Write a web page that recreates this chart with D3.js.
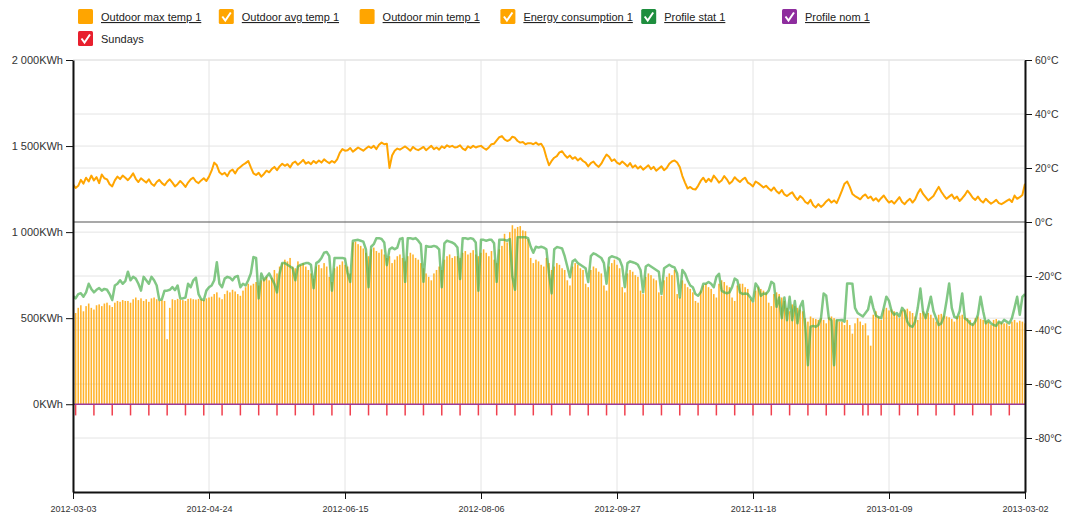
<!DOCTYPE html>
<html>
<head>
<meta charset="utf-8">
<script src="https://cdn.jsdelivr.net/npm/d3@7"></script>
<style>
  body { margin: 0; background: #fff; }
  svg { font-family: "Liberation Sans", Arial, sans-serif; }
  .axis path, .axis line { stroke: #111; }
  .axis text { fill: #333; }
</style>
</head>
<body>
<svg id="chart" width="1065" height="517"></svg>
<script>
// first day of the series, one value per day from here
const startDay = "2012-03-03";

// daily energy consumption (KWh), one row per week starting on Saturday
const energy = [
  545, 530, 560, 575, 540, 570, 585,
  560, 550, 575, 580, 570, 585, 590,
  575, 565, 590, 600, 595, 605, 600,
  600, 590, 610, 620, 605, 615, 600,
  610, 595, 615, 620, 610, 600, 605,
  600, 378, 560, 610, 605, 612, 608,
  605, 600, 612, 615, 610, 608, 612,
  610, 605, 615, 620, 625, 640, 650,
  620, 610, 640, 660, 650, 665, 655,
  640, 630, 660, 680, 700, 690, 700,
  710, 690, 720, 730, 740, 720, 735,
  780, 760, 800, 820, 840, 830, 850,
  800, 790, 830, 810, 820, 800, 780,
  760, 730, 800, 810, 790, 820, 800,
  740, 710, 790, 800, 810, 830, 810,
  800, 760, 940, 945, 930, 920, 905,
  880, 860, 900, 910, 890, 880, 900,
  870, 850, 860, 820, 840, 860, 870,
  850, 830, 860, 880, 870, 850, 840,
  820, 790, 760, 740, 720, 760, 780,
  800, 780, 840, 860, 870, 850, 860,
  860, 850, 880, 890, 870, 880, 895,
  870, 860, 880, 900, 880, 860, 890,
  840, 820, 900, 920, 990, 940, 1000,
  1040, 1020, 1030, 1035, 1010, 1005, 960,
  850, 820, 840, 830, 810, 800, 850,
  820, 780, 800, 820, 810, 790, 780,
  720, 690, 800, 820, 810, 790, 780,
  700, 680, 780, 800, 790, 770, 760,
  690, 660, 800, 820, 840, 810, 790,
  680, 650, 760, 780, 770, 750, 740,
  660, 640, 740, 760, 750, 730, 720,
  650, 630, 720, 740, 760, 750, 780,
  640, 620, 720, 700, 680, 670, 650,
  600, 590, 660, 690, 700, 680, 670,
  640, 620, 700, 720, 710, 690, 680,
  620, 600, 690, 700, 700, 680, 670,
  610, 590, 660, 680, 670, 660, 650,
  590, 570, 640, 650, 640, 620, 600,
  560, 540, 580, 570, 560, 550, 540,
  500, 480, 510, 500, 495, 490, 500,
  490, 470, 505, 510, 500, 490, 480,
  480, 460, 490, 460, 410, 470, 500,
  480, 460, 470, 400, 340, 520, 540,
  510, 490, 550, 560, 545, 550, 540,
  520, 500, 545, 550, 555, 540, 530,
  510, 490, 530, 540, 525, 530, 520,
  500, 480, 520, 525, 515, 510, 505,
  495, 480, 510, 515, 520, 505, 500,
  490, 470, 500, 510, 495, 490, 485,
  480, 460, 490, 495, 480, 475, 470,
  470, 455, 480, 490, 475, 485, 480,
  470
];

// daily statistical profile (KWh)
const profileStat = [
  630, 615, 640, 645, 625, 650, 700,
  670, 650, 665, 675, 660, 670, 665,
  640, 605, 690, 700, 720, 700, 715,
  770, 720, 740, 730, 700, 660, 740,
  720, 700, 740, 720, 690, 605, 610,
  660, 660, 665, 680, 663, 690, 615,
  615, 620, 700, 680, 720, 735, 640,
  610, 605, 660, 680, 690, 720, 825,
  700, 680, 730, 740, 735, 720, 740,
  745, 680, 700, 690, 720, 760, 855,
  850, 615, 760, 720, 740, 760, 730,
  700, 650, 760, 820, 820, 810, 800,
  790, 720, 800, 810, 815, 820, 820,
  810, 674, 820, 830, 850, 880, 885,
  860, 660, 850, 850, 850, 850, 845,
  760, 711, 950, 953, 955, 950, 945,
  900, 680, 915, 930, 965, 965, 960,
  940, 808, 900, 910, 900, 910, 960,
  965, 711, 965, 965, 960, 965, 950,
  930, 711, 920, 915, 915, 920, 915,
  900, 680, 935, 950, 945, 940, 930,
  910, 727, 965, 965, 960, 965, 960,
  940, 660, 955, 955, 950, 955, 955,
  935, 711, 955, 955, 955, 950, 960,
  740, 665, 970, 970, 970, 970, 965,
  915, 880, 915, 910, 915, 910, 900,
  760, 644, 900, 913, 910, 905, 860,
  800, 738, 830, 840, 820, 810, 800,
  790, 710, 860, 877, 870, 860, 850,
  820, 700, 850, 860, 855, 850, 840,
  800, 680, 820, 830, 825, 820, 810,
  780, 650, 800, 810, 800, 790, 780,
  770, 640, 790, 800, 810, 800, 795,
  760, 620, 780, 760, 720, 690, 680,
  640, 630, 650, 700, 700, 710, 700,
  680, 740, 758, 660, 650, 645, 650,
  680, 730, 720, 650, 640, 643, 640,
  620, 597, 702, 680, 630, 643, 640,
  660, 711, 700, 566, 620, 500, 620,
  488, 624, 488, 600, 470, 566, 600,
  450, 227, 450, 455, 450, 460, 500,
  643, 630, 500, 488, 227, 488, 488,
  490, 480, 702, 702, 700, 560, 530,
  520, 510, 530, 550, 625, 560, 515,
  505, 500, 560, 625, 600, 540, 520,
  530, 510, 560, 540, 480, 455, 450,
  480, 560, 672, 540, 500, 560, 625,
  540, 500, 460, 470, 510, 600, 702,
  560, 508, 500, 540, 643, 500, 488,
  470, 460, 480, 520, 624, 540, 470,
  488, 470, 460, 455, 480, 470, 490,
  480, 470, 500, 560, 624, 520, 624,
  640
];

// daily average outdoor temperature (°C)
const avgTemp = [
  14.0, 12.6, 13.4, 15.6, 14.2, 16.4, 15.0,
  17.2, 15.4, 16.6, 14.4, 17.6, 16.2, 15.8,
  14.0, 13.2, 15.4, 16.8, 15.9, 17.2, 16.4,
  15.5, 16.6, 18.0, 16.0, 14.8, 16.2, 15.4,
  14.6, 15.8, 14.2, 13.4, 14.8, 15.6, 14.4,
  13.6, 14.9, 15.8, 14.6, 13.2, 14.0, 15.2,
  14.2, 13.0, 14.6, 15.8, 16.4, 15.0, 14.4,
  15.4, 16.2, 15.2, 16.8, 19.0, 22.0, 21.0,
  18.4, 17.6, 18.2, 17.0, 18.8, 19.4, 18.0,
  19.6, 20.4, 21.2, 21.8, 22.6, 20.2, 18.0,
  17.4, 18.2, 16.8, 17.8, 19.0, 18.4, 19.6,
  20.4, 19.2, 20.6, 21.6, 20.8, 21.4, 20.2,
  21.8, 22.4, 21.2, 22.0, 23.0, 21.6, 22.2,
  21.4, 22.6, 21.8, 22.8, 22.0, 23.2, 22.4,
  21.8, 22.6, 22.0, 23.2, 25.6, 27.0, 26.4,
  26.6, 27.4, 26.0, 26.8, 27.6, 27.0, 26.4,
  27.2, 28.0, 27.4, 28.2, 27.0, 28.6, 29.4,
  28.8, 29.0, 20.0, 24.6, 26.4, 27.2, 26.8,
  27.4, 28.0, 27.2, 26.4, 27.8, 27.0, 26.6,
  27.2, 27.8, 26.6, 27.4, 28.2, 27.0, 27.6,
  26.8, 28.0, 27.4, 28.4, 27.8, 28.2, 27.6,
  27.8, 28.4, 27.2, 26.6, 28.0, 27.4, 28.2,
  27.6, 28.0, 28.2, 27.4, 26.8, 27.6, 28.8,
  29.0, 30.2, 31.4, 31.8, 30.6, 30.0, 30.4,
  31.6, 31.2, 30.0, 29.4, 29.6, 28.8, 29.2,
  29.2, 28.8, 29.4, 28.6, 29.0, 27.4, 24.0,
  21.0, 22.6, 23.8, 24.4, 25.8, 26.2, 24.8,
  23.8, 24.6, 23.4, 24.0, 22.8, 23.6, 22.6,
  22.0, 20.6, 21.8, 22.4, 21.2, 20.4, 21.6,
  23.4, 25.0, 24.2, 22.6, 23.2, 22.0, 21.4,
  22.4, 21.6, 20.6, 21.8, 20.2, 21.0, 19.8,
  20.6, 19.4, 20.2, 21.0, 19.6, 20.4, 19.0,
  19.8, 20.6, 19.2, 20.0, 21.6, 22.4, 22.8,
  22.0, 20.4, 17.0, 14.6, 12.4, 13.0, 12.2,
  12.0, 13.4, 15.2, 16.4, 14.8, 16.0, 15.0,
  17.2, 16.0, 14.6, 15.4, 17.0, 15.8, 14.2,
  15.0, 16.6, 15.6, 14.8, 15.8, 16.4, 14.6,
  14.0, 13.2, 15.0, 14.4, 13.6, 12.8, 13.4,
  12.4, 11.6, 12.8, 11.4, 10.6, 11.8, 10.2,
  9.6, 10.4, 11.0, 9.4, 8.2, 9.6, 8.8,
  7.4, 6.8, 8.2, 6.2, 5.4, 6.6, 5.6,
  6.4, 7.6, 8.4, 7.2, 8.0, 7.0, 9.2,
  11.6, 14.2, 15.0, 13.0, 10.4, 9.6, 9.0,
  8.4, 9.6, 10.2, 8.8, 9.4, 8.0, 8.8,
  7.6, 8.8, 9.8, 8.4, 7.2, 7.8, 6.8,
  8.0, 9.2, 7.4, 6.6, 7.8, 8.6, 7.2,
  8.4, 10.6, 12.2, 10.4, 9.2, 8.0, 8.8,
  9.6, 11.4, 13.0, 11.2, 9.8, 8.6, 9.4,
  10.2, 8.6, 9.4, 7.8, 8.8, 10.0, 11.6,
  10.4, 9.0, 8.2, 9.4, 8.0, 7.2, 8.6,
  7.6, 6.8, 7.4, 8.2, 7.0, 6.6, 7.2,
  7.8, 8.4, 7.4, 9.8, 8.6, 9.2, 10.0,
  14.2
];

// nominal profile is flat at zero
const profileNom = [
  {date: "2012-03-03", kwh: 0},
  {date: "2013-03-02", kwh: 0}
];

// extra non-working days shown with the Sundays
const holidays = ["2013-01-01"];
const sundayDepth = -65;

const dateTicks = ["2012-03-03", "2012-04-24", "2012-06-15", "2012-08-06",
                   "2012-09-27", "2012-11-18", "2013-01-09", "2013-03-02"];
const kwhTicks = [0, 500, 1000, 1500, 2000];
const tempTicks = [-80, -60, -40, -20, 0, 20, 40, 60];

const legendItems = [
  {name: "Outdoor max temp 1", color: "#ffa500", checked: false, link: true},
  {name: "Outdoor avg temp 1", color: "#ffa500", checked: true, link: true},
  {name: "Outdoor min temp 1", color: "#ffa500", checked: false, link: true},
  {name: "Energy consumption 1", color: "#ffa500", checked: true, link: true},
  {name: "Profile stat 1", color: "#1e8e3e", checked: true, link: true},
  {name: "Profile nom 1", color: "#8e2d9e", checked: true, link: true},
  {name: "Sundays", color: "#e8202e", checked: true, link: false}
];

const parse = d3.utcParse("%Y-%m-%d");
const t0 = parse(startDay);
const days = energy.map((v, i) => d3.utcDay.offset(t0, i));

const plotL = 73, plotR = 1025, plotT = 60, plotB = 492;

const svg = d3.select("#chart");

const x = d3.scaleUtc()
    .domain([t0, parse(dateTicks[dateTicks.length - 1])])
    .range([plotL, plotR]);
const yKwh = d3.scaleLinear().domain([-510, 2000]).range([plotB, plotT]);
const yTemp = d3.scaleLinear().domain([-100, 60]).range([plotB, plotT]);

svg.append("clipPath").attr("id", "plot")
  .append("rect").attr("x", plotL).attr("y", plotT)
    .attr("width", plotR - plotL).attr("height", plotB - plotT);

// grid
const grid = svg.append("g").attr("stroke", "#e4e4e4").attr("stroke-width", 1);
grid.selectAll(".gx").data(dateTicks).enter().append("line")
    .attr("x1", d => x(parse(d))).attr("x2", d => x(parse(d)))
    .attr("y1", plotT).attr("y2", plotB);
grid.selectAll(".gk").data(kwhTicks).enter().append("line")
    .attr("x1", plotL).attr("x2", plotR)
    .attr("y1", d => yKwh(d)).attr("y2", d => yKwh(d));
grid.selectAll(".gt").data(tempTicks.filter(t => t !== 0)).enter().append("line")
    .attr("x1", plotL).attr("x2", plotR)
    .attr("y1", d => yTemp(d)).attr("y2", d => yTemp(d));
svg.append("line")
    .attr("x1", plotL).attr("x2", plotR)
    .attr("y1", yTemp(0)).attr("y2", yTemp(0))
    .attr("stroke", "#555").attr("stroke-width", 1.2);

const plot = svg.append("g").attr("clip-path", "url(#plot)");

// energy bars
const step = x(days[1]) - x(days[0]);
const bw = step * 0.6;
plot.append("g").selectAll("rect")
  .data(energy).enter().append("rect")
    .attr("x", (d, i) => x(days[i]) - bw / 2)
    .attr("width", bw)
    .attr("y", d => yKwh(d))
    .attr("height", d => yKwh(0) - yKwh(d))
    .attr("fill", "#ffab14")
    .attr("fill-opacity", 0.9);

// sundays and holidays
const holidayDates = holidays.map(parse);
const offDays = days.filter(d => d.getUTCDay() === 0 ||
    holidayDates.some(h => +h === +d));
plot.append("g").selectAll("line")
  .data(offDays).enter().append("line")
    .attr("x1", d => x(d)).attr("x2", d => x(d))
    .attr("y1", yKwh(0)).attr("y2", yKwh(sundayDepth))
    .attr("stroke", "#f0404e").attr("stroke-width", 1.5);

// nominal profile
plot.append("path")
    .datum(profileNom)
    .attr("fill", "none")
    .attr("stroke", "#9b3a9b")
    .attr("stroke-width", 1.5)
    .attr("d", d3.line().x(d => x(parse(d.date))).y(d => yKwh(d.kwh)));

// statistical profile
plot.append("path")
    .datum(profileStat)
    .attr("fill", "none")
    .attr("stroke", "#4caf50")
    .attr("stroke-opacity", 0.7)
    .attr("stroke-width", 2.5)
    .attr("stroke-linejoin", "round")
    .attr("d", d3.line().x((d, i) => x(days[i])).y(d => yKwh(d)));

// average temperature
plot.append("path")
    .datum(avgTemp)
    .attr("fill", "none")
    .attr("stroke", "#ffa500")
    .attr("stroke-width", 2)
    .attr("stroke-linejoin", "round")
    .attr("d", d3.line().x((d, i) => x(days[i])).y(d => yTemp(d)));

// axes
const kwhFmt = d => d3.format(",")(d).replace(/,/g, " ") + "KWh";
svg.append("g").attr("class", "axis")
    .attr("transform", `translate(${plotL},0)`)
    .call(d3.axisLeft(yKwh).tickValues(kwhTicks).tickFormat(kwhFmt)
      .tickSize(7).tickSizeOuter(0).tickPadding(3))
    .call(g => g.selectAll("text").attr("font-size", 11))
    .call(g => g.select(".domain").attr("stroke-width", 2));

svg.append("g").attr("class", "axis")
    .attr("transform", `translate(${plotR},0)`)
    .call(d3.axisRight(yTemp).tickValues(tempTicks).tickFormat(d => d + "°C")
      .tickSize(7).tickSizeOuter(0).tickPadding(3))
    .call(g => g.selectAll("text").attr("font-size", 10.5))
    .call(g => g.select(".domain").attr("stroke-width", 2));

svg.append("g").attr("class", "axis")
    .attr("transform", `translate(0,${plotB})`)
    .call(d3.axisBottom(x).tickValues(dateTicks.map(parse))
      .tickFormat(d3.utcFormat("%Y-%m-%d"))
      .tickSize(7).tickSizeOuter(0).tickPadding(7))
    .call(g => g.selectAll("text").attr("font-size", 9))
    .call(g => g.select(".domain").attr("stroke-width", 2));

// legend
const legend = svg.append("g");
const item = legend.selectAll("g").data(legendItems).enter().append("g")
    .attr("transform", (d, i) => i < 6
      ? `translate(${78 + i * 140.8},9)`
      : `translate(78,31)`);
item.append("rect")
    .attr("width", 15).attr("height", 15).attr("rx", 1.5)
    .attr("fill", d => d.color);
item.filter(d => d.checked).append("path")
    .attr("d", "M3.5,7.5 L6.5,11.5 L12,3.5")
    .attr("fill", "none").attr("stroke", "#fff")
    .attr("stroke-width", 2);
item.append("text")
    .attr("x", 23).attr("y", 12)
    .attr("font-size", 11)
    .attr("fill", "#222")
    .style("text-decoration", d => d.link ? "underline" : "none")
    .text(d => d.name);
</script>
</body>
</html>
